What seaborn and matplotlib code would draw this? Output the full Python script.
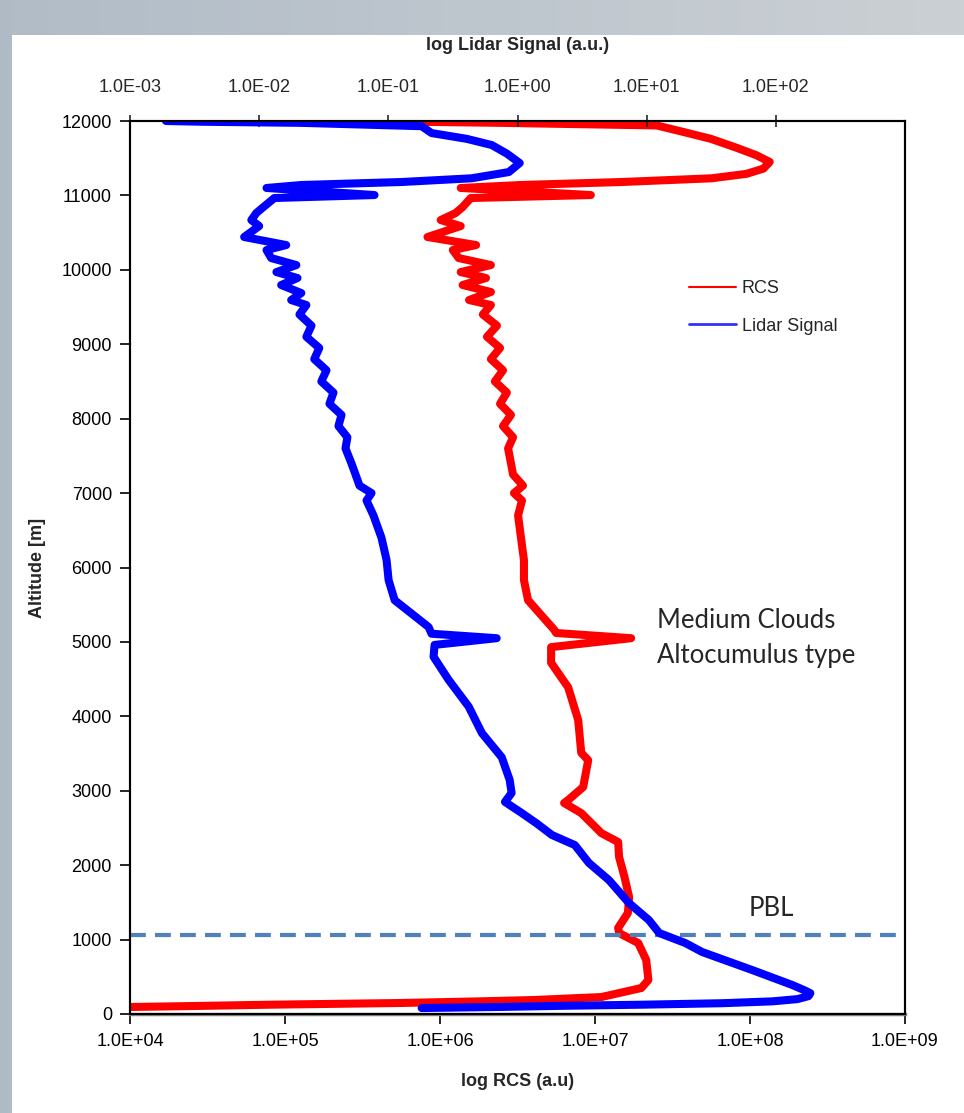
import numpy as np
import matplotlib
matplotlib.use("Agg")
import matplotlib.pyplot as plt
from matplotlib.lines import Line2D
import seaborn as sns

# RCS profile (bottom axis), altitude in m
rcs_alt = [94, 105, 125, 148, 170, 188, 228, 349, 457, 726, 954, 1088, 1156, 1357, 1572,
           1841, 2110, 2311, 2430, 2700, 2835, 2875, 3050, 3410, 3510, 3950, 4390, 4720,
           4930, 5050, 5120, 5160, 5560, 5830,
           6100, 6400, 6700, 6900, 7000, 7100, 7250, 7400, 7600, 7750, 7900, 8050, 8200,
           8350, 8500, 8650, 8800, 8950, 9100, 9250, 9400,
           9527, 9594, 9702, 9796, 9890, 9970, 10064, 10158, 10266, 10333, 10441, 10588,
           10669, 10763, 10844, 10965, 11005, 11100, 11140, 11180, 11230, 11290, 11360,
           11450, 11540, 11640, 11760, 11860, 11940, 11975, 12000]
rcs_val = [1.0e4, 2.2e4, 8.0e4, 5.6e5, 1.8e6, 4.05e6, 1.1e7, 1.99e7, 2.21e7, 2.14e7, 1.90e7,
           1.43e7, 1.41e7, 1.63e7, 1.66e7, 1.55e7, 1.43e7, 1.41e7, 1.10e7, 8.15e6, 6.32e6,
           6.71e6, 8.39e6, 9.04e6, 8.15e6, 7.79e6, 6.71e6, 5.21e6, 5.21e6, 1.71e7, 5.61e6,
           5.47e6, 3.70e6, 3.48e6,
           3.48e6, 3.33e6, 3.19e6, 3.38e6, 3.0e6, 3.43e6, 2.96e6, 2.87e6, 2.75e6, 2.96e6,
           2.55e6, 2.87e6, 2.44e6, 2.70e6, 2.26e6, 2.55e6, 2.13e6, 2.44e6, 2.01e6, 2.33e6,
           1.89e6,
           2.13e6, 1.54e6, 2.13e6, 1.40e6, 1.98e6, 1.36e6, 2.13e6, 1.32e6, 1.21e6, 1.71e6,
           8.3e5, 1.36e6, 1.01e6, 1.26e6, 1.40e6, 1.58e6, 9.4e6, 1.36e6, 3.33e6, 1.48e7,
           5.65e7, 9.5e7, 1.22e8, 1.34e8, 1.10e8, 8.2e7, 5.6e7, 3.6e7, 2.5e7, 2.47e6, 2.94e5]

# Lidar signal profile (top axis)
sig_alt = [80, 95, 110, 125, 145, 170, 200, 240, 280, 320, 390, 590, 833, 954, 1088, 1263,
           1490, 1800, 2030, 2270, 2405, 2560, 2700, 2850, 2970, 3145, 3450, 3775, 4130,
           4490, 4800, 4960, 5050, 5110, 5200, 5560, 5830,
           6100, 6400, 6700, 6900, 7000, 7100, 7250, 7400, 7600, 7750, 7900, 8050, 8200,
           8350, 8500, 8650, 8800, 8950, 9100, 9250, 9400,
           9527, 9594, 9688, 9796, 9890, 9970, 10064, 10158, 10266, 10333, 10441, 10588,
           10669, 10763, 10844, 10965, 11005, 11100, 11140, 11180, 11230, 11314, 11435,
           11560, 11677, 11760, 11838, 11930, 11975, 11990, 12000]
sig_val = [0.181, 0.755, 2.21, 9.2, 38.5, 94, 147, 179, 185, 166, 134, 65.8, 26.9, 19.9,
           12.5, 10.4, 7.3, 5.1, 3.57, 2.78, 1.85, 1.41, 1.08, 0.80, 0.90, 0.87, 0.755, 0.53,
           0.419, 0.293, 0.224, 0.228, 0.69, 0.216, 0.205, 0.112, 0.1005,
           0.0969, 0.0885, 0.0767, 0.0678, 0.0741, 0.0598, 0.0557, 0.0518, 0.0466, 0.0482,
           0.0411, 0.0434, 0.0350, 0.0376, 0.0303, 0.0332, 0.0267, 0.0292, 0.0232, 0.0254,
           0.0205,
           0.0232, 0.0177, 0.0212, 0.0148, 0.0198, 0.0136, 0.0194, 0.0124, 0.0114, 0.0162,
           0.00765, 0.0100, 0.0087, 0.0095, 0.0108, 0.0131, 0.0782, 0.0114, 0.0212, 0.126,
           0.441, 0.857, 1.04, 0.83, 0.632, 0.405, 0.216, 0.181, 0.0212, 0.00356, 0.0019]

pbl_alt = 1060

bottom_ticks = [1e4, 1e5, 1e6, 1e7, 1e8, 1e9]
bottom_labels = ["1.0E+04", "1.0E+05", "1.0E+06", "1.0E+07", "1.0E+08", "1.0E+09"]
top_ticks = [1e-3, 1e-2, 1e-1, 1e0, 1e1, 1e2]
top_labels = ["1.0E-03", "1.0E-02", "1.0E-01", "1.0E+00", "1.0E+01", "1.0E+02"]
alt_ticks = list(range(0, 12001, 1000))

sns.set_style("ticks")
plt.rcParams['font.family'] = ['Liberation Sans', 'DejaVu Sans']

W, H = 964, 1113
fig = plt.figure(figsize=(W / 100, H / 100), dpi=100)

# grey frame with a light gradient on top
bg = fig.add_axes([0, 0, 1, 1], zorder=-10)
bg.set_axis_off()
bg.set_xlim(0, W)
bg.set_ylim(H, 0)
grad = np.linspace(0, 1, 256)[None, :]
bg.imshow(grad, extent=[0, W, 35, 0], aspect='auto',
          cmap=matplotlib.colors.LinearSegmentedColormap.from_list("g", ["#b1bcc7", "#cbd0d4"]))
bg.add_patch(plt.Rectangle((0, 0), 12, H, color="#b0bac5", lw=0))
bg.add_patch(plt.Rectangle((12, 35), W - 12, H - 35, color="white", lw=0))

ax = fig.add_axes([130 / W, 1 - 1014 / H, 775 / W, 893 / H])
sns.lineplot(x=rcs_val, y=rcs_alt, sort=False, estimator=None, color="#ff0000",
             lw=5.8, ax=ax, solid_joinstyle="round", solid_capstyle="round")
ax.axhline(pbl_alt, color="#4f81bd", lw=3, dashes=(3.8, 2.2), zorder=5)
ax.set_xscale("log")
ax.set_xlim(1e4, 1e9)
ax.set_ylim(0, 12000)
ax.set_xticks(bottom_ticks)
ax.set_xticklabels(bottom_labels)
ax.set_yticks(alt_ticks)
ax.minorticks_off()
ax.tick_params(axis="both", direction="out", length=7, width=1.2, labelsize=13, pad=7,
               colors="black")
ax.tick_params(axis="y", pad=6)
ax.set_xlabel("")
ax.set_ylabel("")

ax2 = ax.twiny()
sns.lineplot(x=sig_val, y=sig_alt, sort=False, estimator=None, color="#0000ff",
             lw=5.8, ax=ax2, solid_joinstyle="round", solid_capstyle="round")
ax2.set_xscale("log")
ax2.set_xlim(1e-3, 1e3)
ax2.set_xticks(top_ticks)
ax2.set_xticklabels(top_labels)
ax2.minorticks_off()
ax2.tick_params(axis="x", direction="inout", length=8, width=1.2, labelsize=13, pad=14)
ax2.set_xlabel("")
ax2.set_ylabel("")

for a in (ax, ax2):
    for s in a.spines.values():
        s.set_visible(True)
        s.set_color("black")
        s.set_linewidth(1.5)
ax.spines["bottom"].set_color("#808080")
ax.spines["bottom"].set_linewidth(2.5)

fig.text(518 / W, 1 - 45 / H, "log Lidar Signal (a.u.)", ha="center", va="center",
         fontsize=13, fontweight="bold")
fig.text(518 / W, 1 - 1082 / H, "log RCS (a.u)", ha="center", va="center",
         fontsize=13, fontweight="bold")
fig.text(38 / W, 1 - 568 / H, "Altitude [m]", ha="center", va="center", rotation=90,
         fontsize=13, fontweight="bold")

fig.text(657 / W, 1 - 620 / H, "Medium Clouds", ha="left", va="center", fontsize=18.5,
         family=["Lato", "DejaVu Sans"])
fig.text(657 / W, 1 - 656 / H, "Altocumulus type", ha="left", va="center", fontsize=18.5,
         family=["Lato", "DejaVu Sans"])
fig.text(771 / W, 1 - 908 / H, "PBL", ha="center", va="center", fontsize=18.5,
         family=["Lato", "DejaVu Sans"])

handles = [Line2D([], [], color="#ff0000", lw=1.5), Line2D([], [], color="#3030ff", lw=2)]
ax2.legend(handles, ["RCS", "Lidar Signal"], loc="upper left",
           bbox_to_anchor=(689 / W, 1 - 280 / H), bbox_transform=fig.transFigure,
           frameon=False, fontsize=13, handlelength=2.6, handletextpad=0.33,
           labelspacing=1.15, borderpad=0, borderaxespad=0)

fig.savefig("out.png", dpi=100)
